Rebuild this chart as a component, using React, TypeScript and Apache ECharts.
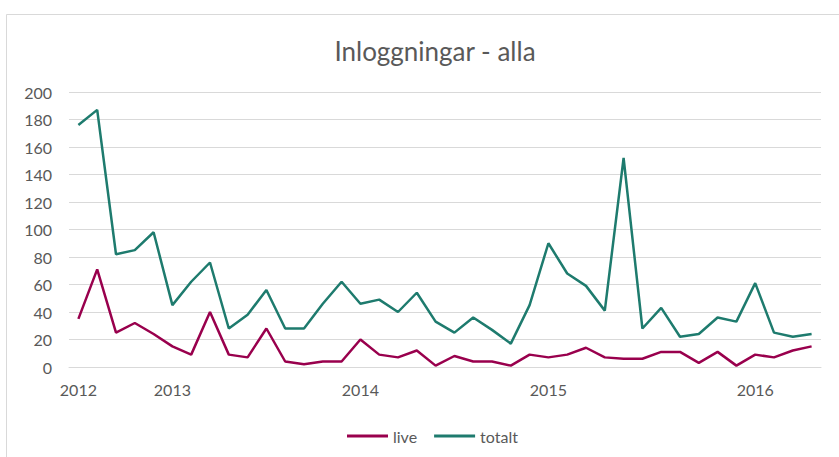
import React, { useEffect, useRef } from "react";
import * as echarts from "echarts";

const periods: string[] = Array.from({ length: 40 }, (_, i) => String(i + 1));
const tickLabels: string[] = [
  "2012", "", "", "", "", "2013", "", "", "", "",
  "", "", "", "", "", "2014", "", "", "", "",
  "", "", "", "", "", "2015", "", "", "", "",
  "", "", "", "", "", "", "2016", "", "", "",
];
const live: number[] = [
  35, 71, 25, 32, 24, 15, 9, 40, 9, 7,
  28, 4, 2, 4, 4, 20, 9, 7, 12, 1,
  8, 4, 4, 1, 9, 7, 9, 14, 7, 6,
  6, 11, 11, 3, 11, 1, 9, 7, 12, 15,
];
const totalt: number[] = [
  176, 187, 82, 85, 98, 45, 62, 76, 28, 38,
  56, 28, 28, 46, 62, 46, 49, 40, 54, 33,
  25, 36, 27, 17, 45, 90, 68, 59, 41, 152,
  28, 43, 22, 24, 36, 33, 61, 25, 22, 24,
];

export default function App() {
  const ref = useRef<HTMLDivElement>(null);
  useEffect(() => {
    if (!ref.current) return;
    const chart = echarts.init(ref.current, null, { renderer: "svg" });
    const font = "Lato";
    chart.setOption({
      animation: false,
      backgroundColor: "#ffffff",
      title: {
        text: "Inloggningar - alla",
        left: 430,
        top: 33,
        textAlign: "center",
        textStyle: { fontFamily: font, fontSize: 26, fontWeight: "normal", color: "#595959" },
      },
      graphic: [
        {
          type: "rect",
          shape: { x: 6.5, y: 14.5, width: 900, height: 500 },
          style: { fill: "none", stroke: "#d9d9d9", lineWidth: 1 },
          silent: true,
        },
      ],
      legend: {
        left: 342,
        top: 423,
        itemWidth: 41,
        itemHeight: 3,
        itemGap: 17,
        icon: "rect",
        textStyle: { fontFamily: font, fontSize: 16, color: "#595959", padding: [0, 0, 0, 0] },
        data: ["live", "totalt"],
      },
      grid: { left: 69, right: 18, top: 92, bottom: 90 },
      xAxis: {
        type: "category",
        data: periods,
        boundaryGap: true,
        axisLine: { lineStyle: { color: "#d9d9d9", width: 1 } },
        axisTick: { show: false },
        axisLabel: {
          interval: (idx: number) => tickLabels[idx] !== "",
          formatter: (_v: string, idx: number) => tickLabels[idx],
          fontFamily: font,
          fontSize: 16,
          color: "#595959",
          margin: 14,
        },
      },
      yAxis: {
        type: "value",
        min: 0,
        max: 200,
        interval: 20,
        axisLine: { show: false },
        axisTick: { show: false },
        splitLine: { lineStyle: { color: "#d9d9d9", width: 1 } },
        axisLabel: { fontFamily: font, fontSize: 16, color: "#595959", margin: 17 },
      },
      series: [
        {
          name: "live",
          type: "line",
          data: live,
          symbol: "none",
          lineStyle: { color: "#99004d", width: 2.5 },
          itemStyle: { color: "#99004d" },
        },
        {
          name: "totalt",
          type: "line",
          data: totalt,
          symbol: "none",
          lineStyle: { color: "#1e7b6e", width: 2.5 },
          itemStyle: { color: "#1e7b6e" },
        },
      ],
    });
    return () => chart.dispose();
  }, []);
  return (
    <div
      ref={ref}
      style={{ position: "absolute", left: 0, top: 0, width: 839, height: 457 }}
    />
  );
}
